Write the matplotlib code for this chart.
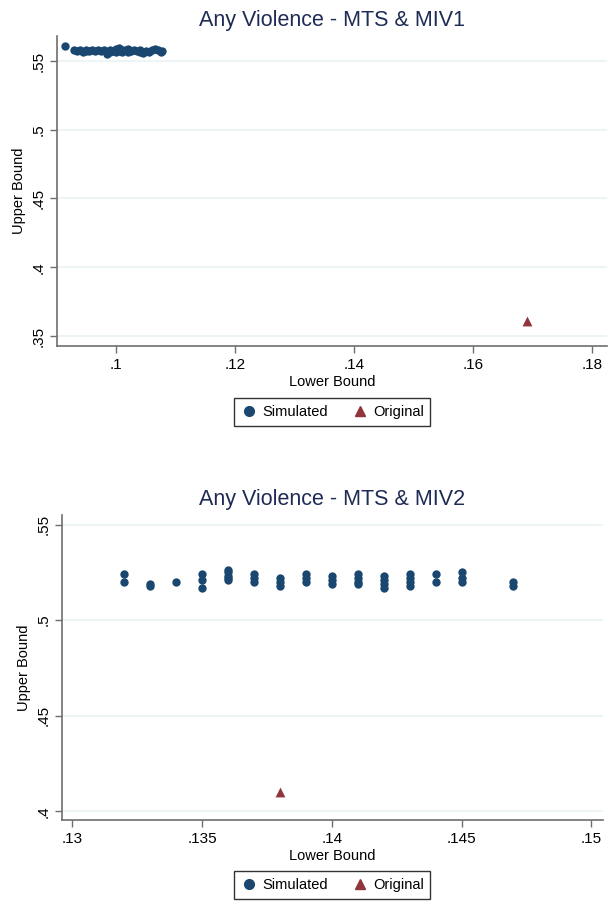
import matplotlib.pyplot as plt
import matplotlib.ticker as mticker
from matplotlib.lines import Line2D

plt.rcParams["font.family"] = ["Liberation Sans", "DejaVu Sans"]

# --- data: panel 1 (MTS & MIV1) ---
sim1_x = [0.0915, 0.0930, 0.0935, 0.0940, 0.0945, 0.0950, 0.0950, 0.0955, 0.0960,
          0.0965, 0.0970, 0.0975, 0.0980, 0.0985, 0.0985, 0.0990, 0.0990, 0.0995,
          0.1000, 0.1000, 0.1005, 0.1005, 0.1010, 0.1010, 0.1015, 0.1020, 0.1020,
          0.1025, 0.1030, 0.1035, 0.1040, 0.1040, 0.1045, 0.1050, 0.1055, 0.1060,
          0.1065, 0.1070, 0.1075, 0.1078]
sim1_y = [0.5612, 0.5578, 0.5572, 0.5577, 0.5567, 0.5582, 0.5572, 0.5572, 0.5577,
          0.5572, 0.5577, 0.5572, 0.5577, 0.5552, 0.5567, 0.5582, 0.5562, 0.5572,
          0.5587, 0.5562, 0.5592, 0.5572, 0.5582, 0.5567, 0.5577, 0.5587, 0.5567,
          0.5572, 0.5582, 0.5572, 0.5577, 0.5562, 0.5557, 0.5572, 0.5567, 0.5582,
          0.5587, 0.5577, 0.5567, 0.5572]
orig1_x = [0.169]
orig1_y = [0.361]

# --- data: panel 2 (MTS & MIV2) ---
sim2_x = [0.132, 0.132,
          0.133, 0.133,
          0.134,
          0.135, 0.135, 0.135,
          0.136, 0.136, 0.136, 0.136, 0.136,
          0.137, 0.137, 0.137,
          0.138, 0.138, 0.138,
          0.139, 0.139, 0.139,
          0.140, 0.140, 0.140,
          0.141, 0.141, 0.141, 0.141,
          0.142, 0.142, 0.142, 0.142,
          0.143, 0.143, 0.143, 0.143,
          0.144, 0.144,
          0.145, 0.145, 0.145,
          0.147, 0.147]
sim2_y = [0.524, 0.520,
          0.519, 0.518,
          0.520,
          0.524, 0.521, 0.517,
          0.526, 0.525, 0.523, 0.522, 0.521,
          0.524, 0.522, 0.520,
          0.522, 0.520, 0.518,
          0.524, 0.522, 0.520,
          0.523, 0.521, 0.519,
          0.524, 0.522, 0.520, 0.519,
          0.523, 0.521, 0.519, 0.517,
          0.524, 0.522, 0.520, 0.518,
          0.524, 0.520,
          0.525, 0.522, 0.520,
          0.520, 0.518]
orig2_x = [0.138]
orig2_y = [0.410]

panels = [
    dict(title="Any Violence - MTS & MIV1", sx=sim1_x, sy=sim1_y, ox=orig1_x, oy=orig1_y,
         xticks=[0.10, 0.12, 0.14, 0.16, 0.18], yticks=[0.35, 0.40, 0.45, 0.50, 0.55],
         xlim=(0.0901, 0.1825), ylim=(0.3427, 0.5682),
         rect=[57 / 609, 1 - 346 / 901, 550 / 609, 310 / 901], leg_y=412),
    dict(title="Any Violence - MTS & MIV2", sx=sim2_x, sy=sim2_y, ox=orig2_x, oy=orig2_y,
         xticks=[0.130, 0.135, 0.140, 0.145, 0.150], yticks=[0.40, 0.45, 0.50, 0.55],
         xlim=(0.1296, 0.15045), ylim=(0.3955, 0.5550),
         rect=[62 / 609, 1 - 820 / 901, 541 / 609, 305 / 901], leg_y=885),
]

navy = "#1a476f"
maroon = "#90353b"
title_col = "#1e2b55"
axis_col = "#6e6e6e"


def stata_fmt(v, pos):
    s = f"{v:g}"
    return s[1:] if s.startswith("0.") else s


fig = plt.figure(figsize=(6.09, 9.01), dpi=100)
fig.patch.set_facecolor("white")

for p in panels:
    ax = fig.add_axes(p["rect"])
    ax.scatter(p["sx"], p["sy"], s=36, color=navy, zorder=3, linewidths=0)
    ax.scatter(p["ox"], p["oy"], s=50, marker="^", color=maroon, zorder=3, linewidths=0)
    ax.set_xlim(*p["xlim"])
    ax.set_ylim(*p["ylim"])
    ax.set_xticks(p["xticks"])
    ax.set_yticks(p["yticks"])
    ax.xaxis.set_major_formatter(mticker.FuncFormatter(stata_fmt))
    ax.yaxis.set_major_formatter(mticker.FuncFormatter(stata_fmt))
    ax.grid(axis="y", color="#eaf2f3", linewidth=1.2, zorder=0)
    for side in ("top", "right"):
        ax.spines[side].set_visible(False)
    for side in ("left", "bottom"):
        ax.spines[side].set_color(axis_col)
        ax.spines[side].set_linewidth(1.2)
    ax.tick_params(axis="both", direction="out", length=5, width=1, color=axis_col,
                   labelsize=11, labelcolor="black")
    plt.setp(ax.get_yticklabels(), rotation=90, va="center")
    ax.set_xlabel("Lower Bound", fontsize=10.5, labelpad=2)
    ax.set_ylabel("Upper Bound", fontsize=10.5, labelpad=4)
    ax.set_title(p["title"], fontsize=15.5, color=title_col, pad=7)

    handles = [
        Line2D([], [], marker="o", linestyle="none", color=navy, markersize=7),
        Line2D([], [], marker="^", linestyle="none", color=maroon, markersize=7),
    ]
    leg = fig.legend(handles, ["Simulated", "Original"], loc="center",
                     bbox_to_anchor=(332 / 609, 1 - p["leg_y"] / 901), ncol=2,
                     fontsize=10.5, frameon=True, fancybox=False, handletextpad=0.3,
                     columnspacing=1.6, borderpad=0.45, handlelength=1.2)
    leg.get_frame().set_edgecolor("black")
    leg.get_frame().set_linewidth(1.0)

fig.savefig("out.png", dpi=100)
